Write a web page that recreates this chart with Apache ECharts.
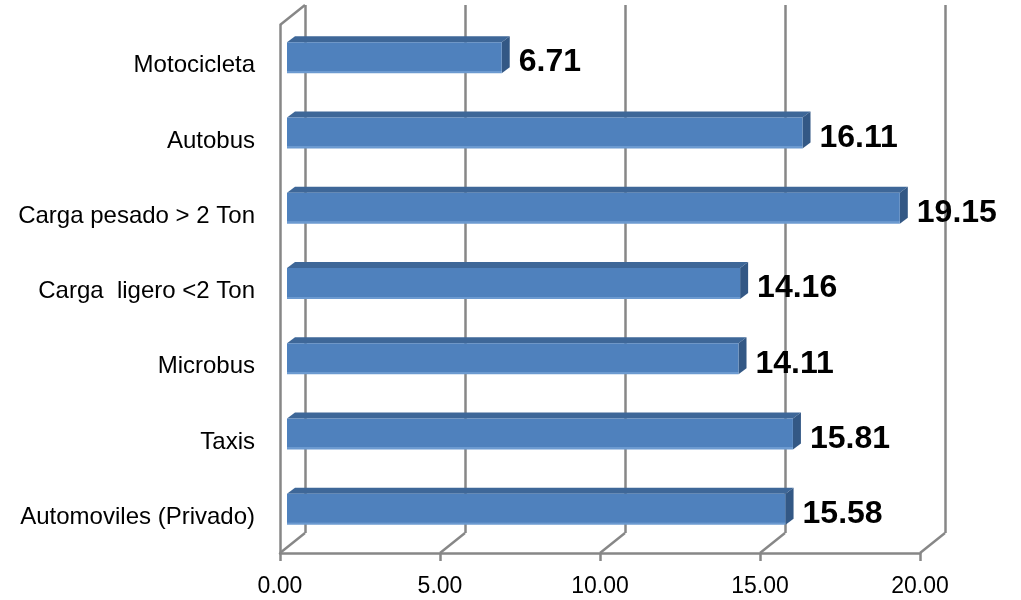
<!DOCTYPE html>
<html>
<head>
<meta charset="utf-8">
<script src="https://cdn.jsdelivr.net/npm/echarts@6/dist/echarts.min.js"></script>
<style>
  html, body { margin: 0; padding: 0; background: #ffffff; }
  #chart { width: 1021px; height: 600px; }
</style>
</head>
<body>
<div id="chart"></div>
<script>
// Vehicle categories, listed top to bottom
const categories = [
  'Motocicleta',
  'Autobus',
  'Carga pesado > 2 Ton',
  'Carga  ligero <2 Ton',
  'Microbus',
  'Taxis',
  'Automoviles (Privado)'
];
const values = [6.71, 16.11, 19.15, 14.16, 14.11, 15.81, 15.58];
const tickValues = [0, 5, 10, 15, 20];

// 3D box styling
const DEPTH_X = 25, DEPTH_Y = 20;   // wall depth (front frame -> back wall)
const BAR_DX = 8, BAR_DY = 6;       // bar thickness
const BAR_H = 31;
const GRID_COLOR = '#878787';
const LINE_W = 2.5;
const FONT = '"Liberation Sans", Arial, sans-serif';
const BAR_COLOR = '#4F81BD', BAR_TOP = '#3E6798', BAR_SIDE = '#335885';

const chart = echarts.init(document.getElementById('chart'), null, { renderer: 'canvas' });

// top and right faces of each bar
function renderBarFaces(params, api) {
  const i = api.value(0);
  const v = api.value(1);
  const start = api.coord([0, i]);
  const end = api.coord([v, i]);
  const yTop = end[1] - BAR_H / 2;
  const yBot = end[1] + BAR_H / 2;
  return {
    type: 'group',
    children: [
      {
        type: 'polygon',
        shape: { points: [
          [start[0], yTop], [start[0] + BAR_DX, yTop - BAR_DY],
          [end[0] + BAR_DX, yTop - BAR_DY], [end[0], yTop]
        ] },
        style: { fill: BAR_TOP }
      },
      {
        type: 'polygon',
        shape: { points: [
          [end[0], yTop], [end[0] + BAR_DX, yTop - BAR_DY],
          [end[0] + BAR_DX, yBot - BAR_DY], [end[0], yBot]
        ] },
        style: { fill: BAR_SIDE }
      }
    ]
  };
}

// receding edges from the front frame to the back wall
function renderDepthEdge(params, api) {
  const p = api.coord([api.value(0), api.value(1)]);
  return {
    type: 'line',
    shape: { x1: p[0], y1: p[1], x2: p[0] + DEPTH_X, y2: p[1] - DEPTH_Y },
    style: { stroke: GRID_COLOR, lineWidth: LINE_W }
  };
}

const edgeData = tickValues.map(v => [v, 0]).concat([[0, 1]]);

const option = {
  backgroundColor: '#ffffff',
  animation: false,
  grid: [
    { left: 287, width: 640, top: 20, bottom: 53 },                    // bars
    { left: 280 + DEPTH_X, width: 640, top: 5, bottom: 47 + DEPTH_Y }, // back wall
    { left: 280, width: 640, top: 25, bottom: 47 },                    // front frame
    { left: 287, width: 640, top: 28, bottom: 45 }                     // category labels
  ],
  xAxis: [
    { gridIndex: 0, type: 'value', min: 0, max: 20, show: false },
    {
      gridIndex: 1, type: 'value', min: 0, max: 20, interval: 5,
      axisLine: { show: false }, axisTick: { show: false }, axisLabel: { show: false },
      splitLine: { show: true, lineStyle: { color: GRID_COLOR, width: LINE_W } }
    },
    {
      gridIndex: 2, type: 'value', min: 0, max: 20, interval: 5,
      axisLine: { show: true, onZero: false, lineStyle: { color: GRID_COLOR, width: LINE_W } },
      axisTick: { show: true, length: 8, lineStyle: { color: GRID_COLOR, width: LINE_W } },
      axisLabel: {
        formatter: v => v.toFixed(2), fontSize: 23, color: '#000',
        fontFamily: FONT, margin: 22
      },
      splitLine: { show: false }
    },
    { gridIndex: 3, type: 'value', min: 0, max: 20, show: false }
  ],
  yAxis: [
    { gridIndex: 0, type: 'category', data: categories, inverse: true, show: false },
    { gridIndex: 1, type: 'value', min: 0, max: 1, show: false },
    {
      gridIndex: 2, type: 'value', min: 0, max: 1,
      axisLine: { show: true, onZero: false, lineStyle: { color: GRID_COLOR, width: LINE_W } },
      axisTick: { show: false }, axisLabel: { show: false }, splitLine: { show: false }
    },
    {
      gridIndex: 3, type: 'category', data: categories, inverse: true,
      axisLine: { show: false }, axisTick: { show: false },
      axisLabel: { margin: 32, fontSize: 24, color: '#000', fontFamily: FONT },
      splitLine: { show: false }
    }
  ],
  series: [
    {
      type: 'custom', xAxisIndex: 2, yAxisIndex: 2, z: 1,
      renderItem: renderDepthEdge, data: edgeData, silent: true
    },
    {
      type: 'bar', xAxisIndex: 0, yAxisIndex: 0, z: 3,
      data: values, barWidth: BAR_H,
      itemStyle: {
        color: {
          type: 'linear', x: 0, y: 0, x2: 0, y2: 1,
          colorStops: [
            { offset: 0, color: BAR_COLOR },
            { offset: 0.92, color: BAR_COLOR },
            { offset: 0.93, color: '#6C9AD0' },
            { offset: 1, color: '#6C9AD0' }
          ]
        }
      },
      label: {
        show: true, position: 'right', distance: 17, offset: [0, 5],
        formatter: p => p.value.toFixed(2),
        fontSize: 32, fontWeight: 'bold', color: '#000', fontFamily: FONT
      }
    },
    {
      type: 'custom', xAxisIndex: 0, yAxisIndex: 0, z: 3,
      renderItem: renderBarFaces,
      data: values.map((v, i) => [i, v]),
      encode: { x: 1, y: 0 }, silent: true
    }
  ]
};

chart.setOption(option);
</script>
</body>
</html>
